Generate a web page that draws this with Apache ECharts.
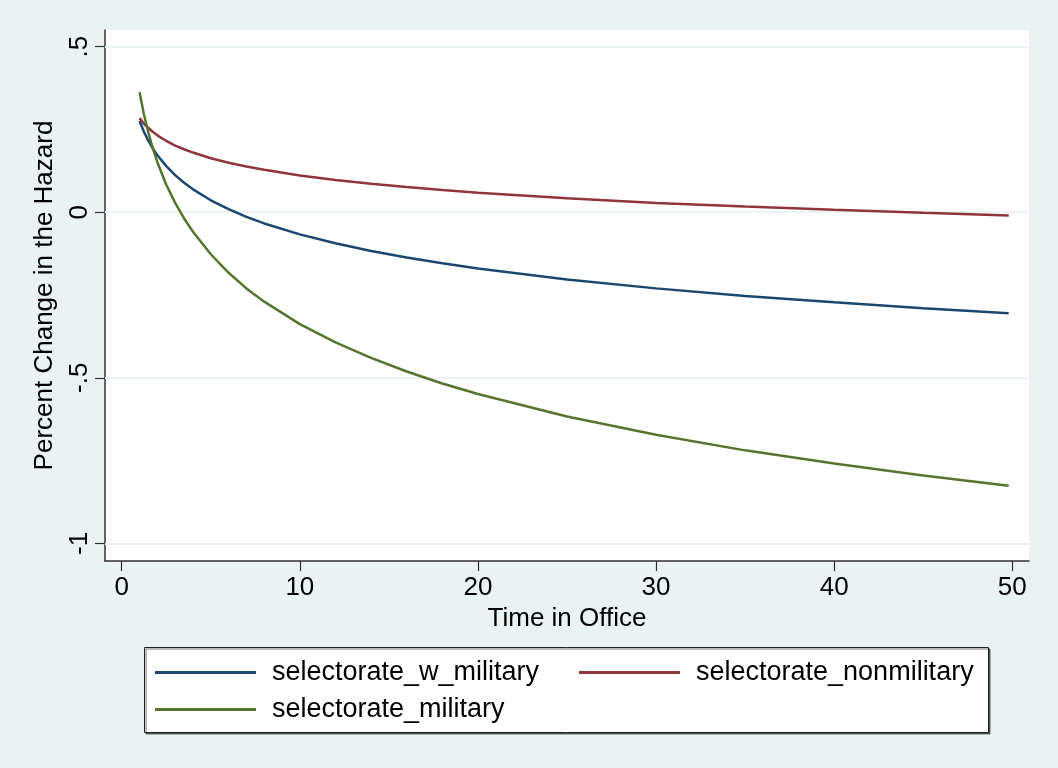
<!DOCTYPE html>
<html>
<head>
<meta charset="utf-8">
<script src="https://cdn.jsdelivr.net/npm/echarts@6/dist/echarts.min.js"></script>
<style>
html,body{margin:0;padding:0;background:#EAF2F3;}
#chart{width:1058px;height:768px;}
</style>
</head>
<body>
<div id="chart"></div>
<script>
var timeInOffice = [1, 1.25, 1.5, 1.75, 2, 2.5, 3, 3.5, 4, 5, 6, 7, 8, 10, 12, 14, 16, 18, 20, 25, 30, 35, 40, 45, 49.8];
var selectorateWMilitary = [0.275, 0.242, 0.215, 0.192, 0.172, 0.139, 0.112, 0.089, 0.069, 0.036, 0.009, -0.014, -0.034, -0.067, -0.094, -0.117, -0.137, -0.154, -0.170, -0.203, -0.230, -0.253, -0.272, -0.290, -0.305];
var selectorateNonmilitary = [0.284, 0.267, 0.254, 0.242, 0.232, 0.215, 0.201, 0.190, 0.180, 0.163, 0.149, 0.138, 0.128, 0.111, 0.097, 0.086, 0.076, 0.067, 0.059, 0.042, 0.028, 0.017, 0.007, -0.002, -0.010];
var selectorateMilitary = [0.362, 0.294, 0.239, 0.192, 0.151, 0.083, 0.028, -0.019, -0.059, -0.127, -0.183, -0.230, -0.270, -0.338, -0.393, -0.440, -0.481, -0.517, -0.549, -0.617, -0.672, -0.719, -0.759, -0.795, -0.826];
var xTicks = [0, 10, 20, 30, 40, 50];
var yTicks = [-1, -0.5, 0, 0.5];
var yTickLabels = ['-1', '-.5', '0', '.5'];
var seriesNames = ['selectorate_w_military', 'selectorate_nonmilitary', 'selectorate_military'];
var colors = ['#1A476F', '#90353B', '#55752F'];

function pairs(vals) {
  return timeInOffice.map(function (t, i) { return [t, vals[i]]; });
}
var FONT = 'Liberation Sans, Arial, sans-serif';
var chart = echarts.init(document.getElementById('chart'));
var legendText = {color: '#000', fontFamily: FONT, fontSize: 27, lineHeight: 27, padding: [0, 0, 0, 11]};
function mkLegend(name, left, top) {
  return {data: [name], left: left, top: top, orient: 'horizontal', padding: 0,
    itemWidth: 101, itemHeight: 3, icon: 'rect', selectedMode: false, textStyle: legendText};
}
function lineSeries(i, vals) {
  return {name: seriesNames[i], type: 'line', data: pairs(vals), smooth: false, showSymbol: false, symbol: 'none',
    lineStyle: {width: 2.5, color: colors[i]}, itemStyle: {color: colors[i]}, z: 3};
}
var s0 = lineSeries(0, selectorateWMilitary);
s0.markLine = {silent: true, symbol: 'none', label: {show: false}, lineStyle: {color: '#EAF2F3', width: 2, type: 'solid'}, z: 1,
  data: yTicks.map(function (v) { return {yAxis: v}; })};
chart.setOption({
  backgroundColor: '#EAF2F3',
  animation: false,
  color: colors,
  graphic: [{
    type: 'rect', z: -1,
    shape: {x: 144.5, y: 647.5, width: 844, height: 85},
    style: {fill: '#fff', stroke: '#222', lineWidth: 1, shadowColor: 'rgba(0,0,0,0.55)', shadowOffsetX: 1.5, shadowOffsetY: 1.5, shadowBlur: 0}
  }],
  legend: [
    mkLegend(seriesNames[0], 155, 659),
    mkLegend(seriesNames[1], 579, 659),
    mkLegend(seriesNames[2], 155, 696)
  ],
  grid: {left: 105, top: 30, right: 29, bottom: 207, show: true, backgroundColor: '#fff', borderWidth: 0, containLabel: false},
  xAxis: {
    type: 'value', min: -0.94, max: 50.94,
    name: 'Time in Office', nameLocation: 'middle', nameGap: 44,
    nameTextStyle: {color: '#000', fontFamily: FONT, fontSize: 26},
    axisLine: {show: true, onZero: false, lineStyle: {color: '#333', width: 1.5}},
    axisTick: {show: true, length: 10, customValues: xTicks, lineStyle: {color: '#333', width: 1.2}},
    axisLabel: {customValues: xTicks, margin: 14, color: '#000', fontFamily: FONT, fontSize: 26},
    splitLine: {show: false}
  },
  yAxis: {
    type: 'value', min: -1.053, max: 0.55,
    name: 'Percent Change in the Hazard', nameLocation: 'middle', nameGap: 47, nameRotate: 90,
    nameTextStyle: {color: '#000', fontFamily: FONT, fontSize: 26},
    axisLine: {show: true, onZero: false, lineStyle: {color: '#333', width: 1.5}},
    axisTick: {show: true, length: 10, customValues: yTicks, lineStyle: {color: '#333', width: 1.2}},
    axisLabel: {customValues: yTicks, rotate: 90, margin: 12, color: '#000', fontFamily: FONT, fontSize: 26,
      formatter: function (v) { var i = yTicks.indexOf(v); return i >= 0 ? yTickLabels[i] : ''; }},
    splitLine: {show: false}
  },
  series: [
    s0,
    lineSeries(1, selectorateNonmilitary),
    lineSeries(2, selectorateMilitary)
  ]
});
</script>
</body>
</html>
